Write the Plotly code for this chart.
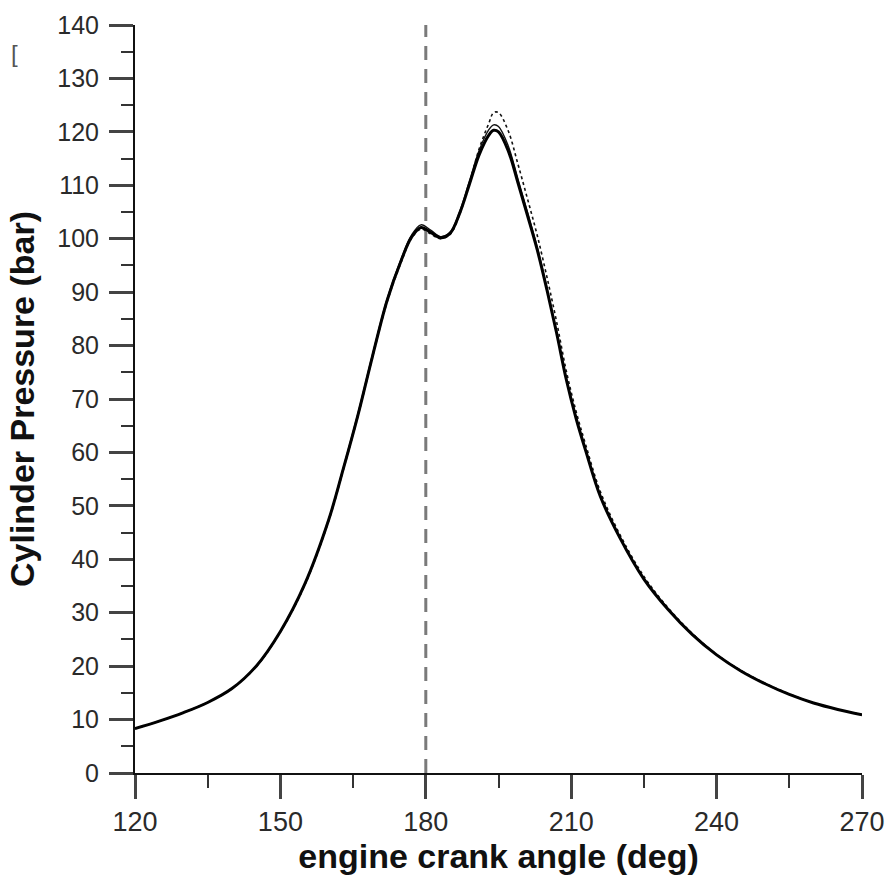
import plotly.graph_objects as go

angle = [120, 125, 130, 135, 140, 145, 150, 155, 160, 163, 166, 169, 172, 175, 177, 179,
         181, 183, 185, 187, 189, 191, 193, 194, 195, 197, 199, 201, 203, 205, 207, 209, 211,
         213, 216, 220, 225, 230, 235, 240, 245, 250, 255, 260, 265, 270]

p_case1 = [8.3, 9.7, 11.3, 13.2, 15.8, 20.0, 26.5, 35.3, 47.5, 57.0, 67.0, 78.0, 88.4, 96.1, 100.2, 102.1,
           101.2, 100.2, 101.0, 104.8, 110.2, 115.7, 119.4, 120.3, 120.0, 116.5, 110.5, 104.3, 97.9, 90.4, 82.3, 73.6, 66.4,
           60.3, 51.8, 44.1, 36.3, 30.6, 25.9, 22.1, 19.1, 16.7, 14.7, 13.1, 11.9, 10.9]

p_case2 = [8.3, 9.7, 11.3, 13.2, 15.8, 20.0, 26.5, 35.3, 47.6, 57.2, 67.3, 78.3, 88.7, 96.4, 100.6, 102.6,
           101.6, 100.4, 101.2, 105.1, 110.8, 116.5, 120.4, 121.3, 121.0, 117.4, 111.2, 104.9, 98.4, 90.8, 82.6, 73.8, 66.6,
           60.5, 52.0, 44.2, 36.4, 30.7, 25.9, 22.1, 19.1, 16.7, 14.7, 13.1, 11.9, 10.9]

p_case3 = [8.3, 9.7, 11.3, 13.2, 15.8, 19.9, 26.4, 35.1, 47.3, 56.8, 66.8, 77.8, 88.1, 95.8, 100.0, 101.8,
           100.9, 100.0, 100.8, 104.6, 110.4, 116.8, 121.6, 123.6, 123.6, 120.2, 114.0, 107.4, 100.6, 92.8, 84.4, 75.2, 67.7,
           61.4, 52.7, 44.7, 36.8, 30.9, 26.1, 22.2, 19.2, 16.8, 14.8, 13.1, 11.9, 10.9]

tdc_angle = 180
y_range = [0, 140]
x_range = [120, 270]

x_ticks = [120, 150, 180, 210, 240, 270]
y_ticks = list(range(0, 141, 10))

fig = go.Figure()

fig.add_trace(go.Scatter(x=[tdc_angle, tdc_angle], y=[0, 140.8], mode="lines",
                         line=dict(color="#7a7a7a", width=3, dash="14px,9px"),
                         cliponaxis=False, showlegend=False, hoverinfo="skip"))

fig.add_trace(go.Scatter(x=angle, y=p_case3, mode="lines", line_shape="spline",
                         line=dict(color="#111", width=1.6, dash="dot"), showlegend=False))
fig.add_trace(go.Scatter(x=angle, y=p_case2, mode="lines", line_shape="spline",
                         line=dict(color="#111", width=1.4), showlegend=False))
fig.add_trace(go.Scatter(x=angle, y=p_case1, mode="lines", line_shape="spline",
                         line=dict(color="#000", width=3), showlegend=False))

fig.add_annotation(text="[", xref="paper", yref="paper", x=-0.1733, y=0.983,
                   showarrow=False, font=dict(size=24, color="#555"))

fig.update_layout(
    width=889, height=884,
    margin=dict(l=135, r=27, t=25, b=111),
    paper_bgcolor="white", plot_bgcolor="white",
    font=dict(family="Liberation Sans, Arial, sans-serif", color="#222"),
    showlegend=False,
)

fig.update_xaxes(
    range=x_range, tickvals=x_ticks, ticktext=[str(v) for v in x_ticks],
    automargin=False,
    showgrid=False, zeroline=False, showline=True, linecolor="#111", linewidth=2,
    ticks="outside", ticklen=24, tickwidth=2.5, tickcolor="#444", ticklabelstandoff=0,
    minor=dict(dtick=15, tick0=120, ticks="outside", ticklen=13, tickwidth=2, tickcolor="#333"),
    tickfont=dict(size=27, color="#2a2a2a"),
    title=dict(text="<b>engine crank angle (deg)</b>", font=dict(size=34, color="#111"), standoff=7),
)
fig.update_yaxes(
    range=y_range, tickvals=y_ticks, ticktext=[str(v) for v in y_ticks],
    automargin=False,
    showgrid=False, zeroline=False, showline=True, linecolor="#111", linewidth=2,
    ticks="outside", ticklen=24, tickwidth=2.5, tickcolor="#444", ticklabelstandoff=5,
    minor=dict(dtick=5, tick0=0, ticks="outside", ticklen=12, tickwidth=2, tickcolor="#333"),
    tickfont=dict(size=25, color="#2a2a2a"),
    title=dict(text="<b>Cylinder Pressure (bar)</b>", font=dict(size=34, color="#111"), standoff=12),
)

fig.write_html("out.html", config={"displayModeBar": False},
               post_script="document.body.style.margin='0px';document.body.style.overflow='hidden';")
